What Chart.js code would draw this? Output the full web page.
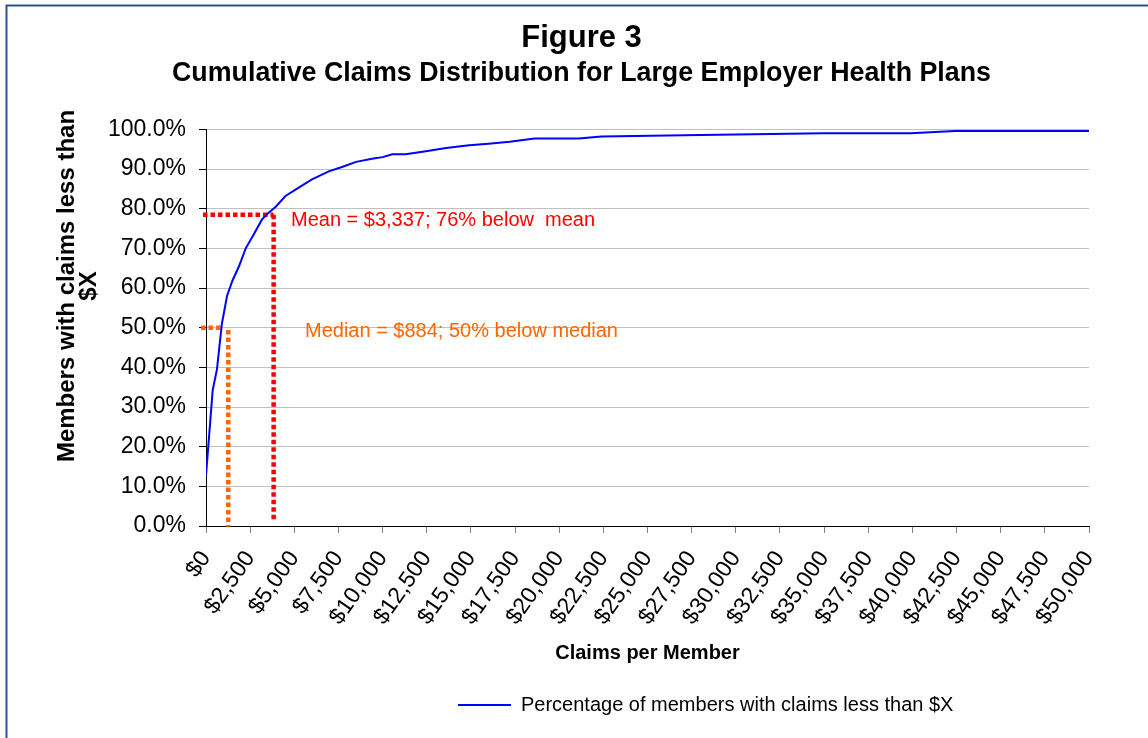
<!DOCTYPE html>
<html>
<head>
<meta charset="utf-8">
<script src="https://cdn.jsdelivr.net/npm/chart.js@4/dist/chart.umd.min.js"></script>
<style>
  html, body { margin: 0; padding: 0; background: #ffffff; }
  canvas { display: block; }
</style>
</head>
<body>
<canvas id="c" width="1148" height="738"></canvas>
<script>
// ---- data ----
const claimsX = [0, 380, 620, 900, 1190, 1500, 1850, 2250, 2700, 3170, 3550, 3950, 4500, 5250, 6000, 6950, 7700, 8500, 9400, 10000, 10550, 11300, 12450, 13600, 14900, 16000, 17200, 18600, 21100, 22400, 28000, 35000, 39900, 42400, 50000];
const pctY    = [12.7, 34.3, 39.5, 51.0, 58.0, 61.9, 65.3, 70.0, 73.5, 77.3, 79.0, 80.5, 83.2, 85.3, 87.4, 89.4, 90.5, 91.8, 92.6, 93.0, 93.7, 93.7, 94.5, 95.3, 96.0, 96.4, 96.9, 97.7, 97.7, 98.2, 98.6, 99.0, 99.0, 99.6, 99.6];

const xTickValues = [0, 2500, 5000, 7500, 10000, 12500, 15000, 17500, 20000, 22500, 25000, 27500, 30000, 32500, 35000, 37500, 40000, 42500, 45000, 47500, 50000];
const xTickLabels = ['$0', '$2,500', '$5,000', '$7,500', '$10,000', '$12,500', '$15,000', '$17,500', '$20,000', '$22,500', '$25,000', '$27,500', '$30,000', '$32,500', '$35,000', '$37,500', '$40,000', '$42,500', '$45,000', '$47,500', '$50,000'];
const yTickValues = [0, 10, 20, 30, 40, 50, 60, 70, 80, 90, 100];
const yTickLabels = ['0.0%', '10.0%', '20.0%', '30.0%', '40.0%', '50.0%', '60.0%', '70.0%', '80.0%', '90.0%', '100.0%'];

// dotted marker lines as drawn in the picture
const meanHX = [-170, 3830], meanHY = [78.5, 78.5];
const meanVX = [3830, 3830], meanVY = [78.5, 1.3];
const medianHX = [-280, 980], medianHY = [50.0, 50.0];
const medianVX = [1263, 1263], medianVY = [49.4, -0.2];

const notes = [
  { text: 'Mean = $3,337; 76% below  mean', x: 4813, y: 77.0, color: '#FF0000' },
  { text: 'Median = $884; 50% below median', x: 5605, y: 49.1, color: '#FF6600' }
];

const seriesLabel = 'Percentage of members with claims less than $X';
const titleText = 'Figure 3';
const subtitleText = 'Cumulative Claims Distribution for Large Employer Health Plans';
const xTitle = 'Claims per Member';
const yTitleLines = ['Members with claims less than', '$X'];

const FONT = "'Liberation Sans', Arial, Helvetica, sans-serif";

function pts(xs, ys) { return xs.map((x, i) => ({ x: x, y: ys[i] })); }

const markerDs = (xs, ys, color) => ({
  label: '_marker',
  data: pts(xs, ys),
  borderColor: color,
  backgroundColor: color,
  borderWidth: 4.5,
  borderDash: [4.5, 3],
  borderCapStyle: 'butt',
  pointRadius: 0,
  clip: false,
  fill: false
});

const decorPlugin = {
  id: 'decor',
  beforeDraw(chart) {
    const ctx = chart.ctx;
    ctx.save();
    ctx.fillStyle = '#ffffff';
    ctx.fillRect(0, 0, chart.width, chart.height);
    ctx.strokeStyle = '#2E5090';
    ctx.lineWidth = 2;
    ctx.beginPath();
    ctx.moveTo(6.5, chart.height);
    ctx.lineTo(6.5, 5.5);
    ctx.lineTo(chart.width, 5.5);
    ctx.stroke();
    ctx.restore();
  },
  afterLayout(chart) {
    if (chart.legend) {
      const w = chart.legend.right - chart.legend.left;
      chart.legend.left = 448;
      chart.legend.right = 448 + w;
    }
    chart.boxes.forEach(b => {
      if (b && b.options && (b.options.text === titleText || b.options.text === subtitleText)) {
        b.left += 37; b.right += 37;
      }
    });
  },
  afterDraw(chart) {
    const ctx = chart.ctx;
    const xs = chart.scales.x, ys = chart.scales.y;
    ctx.save();
    // y axis title
    ctx.fillStyle = '#000000';
    ctx.font = 'bold 24px ' + FONT;
    ctx.textAlign = 'center';
    ctx.textBaseline = 'middle';
    yTitleLines.forEach((line, i) => {
      ctx.save();
      ctx.translate(67 + i * 22, 286);
      ctx.rotate(-Math.PI / 2);
      ctx.fillText(line, 0, 0);
      ctx.restore();
    });
    // annotation notes
    ctx.font = '20px ' + FONT;
    ctx.textAlign = 'left';
    notes.forEach(n => {
      ctx.fillStyle = n.color;
      ctx.fillText(n.text, xs.getPixelForValue(n.x), ys.getPixelForValue(n.y));
    });
    ctx.restore();
  }
};

new Chart(document.getElementById('c'), {
  type: 'line',
  data: {
    datasets: [
      {
        label: seriesLabel,
        data: pts(claimsX, pctY),
        borderColor: '#0000FF',
        backgroundColor: '#0000FF',
        borderWidth: 2,
        pointRadius: 0,
        tension: 0,
        fill: false,
        pointStyle: 'line'
      },
      markerDs(meanHX, meanHY, '#FF0000'),
      markerDs(meanVX, meanVY, '#FF0000'),
      markerDs(medianHX, medianHY, '#FF6600'),
      markerDs(medianVX, medianVY, '#FF6600')
    ]
  },
  options: {
    responsive: false,
    animation: false,
    devicePixelRatio: 1,
    layout: { padding: { left: 0, right: 59, top: 4, bottom: 13 } },
    plugins: {
      title: {
        display: true,
        text: titleText,
        color: '#000000',
        font: { family: FONT, size: 31, weight: 'bold' },
        padding: { top: 16, bottom: 0 }
      },
      subtitle: {
        display: true,
        text: subtitleText,
        color: '#000000',
        font: { family: FONT, size: 26.8, weight: 'bold' },
        padding: { top: 0, bottom: 40 }
      },
      legend: {
        display: true,
        position: 'bottom',
        align: 'start',
        labels: {
          usePointStyle: true,
          pointStyleWidth: 53,
          padding: 10,
          color: '#000000',
          font: { family: FONT, size: 20 },
          filter: item => item.datasetIndex === 0
        }
      },
      tooltip: { enabled: false }
    },
    scales: {
      x: {
        type: 'linear',
        min: 0,
        max: 50000,
        afterBuildTicks: s => { s.ticks = xTickValues.map(v => ({ value: v })); },
        afterFit: s => { s.height = 159; },
        ticks: {
          autoSkip: false,
          maxRotation: 55,
          minRotation: 55,
          padding: 13,
          color: '#000000',
          font: { family: FONT, size: 23 },
          callback: (v, i) => xTickLabels[i]
        },
        grid: {
          display: true,
          drawOnChartArea: false,
          tickLength: 7,
          color: '#808080'
        },
        border: { display: true, color: '#000000', width: 1 },
        title: {
          display: true,
          text: xTitle,
          color: '#000000',
          font: { family: FONT, size: 20, weight: 'bold' },
          padding: { top: 0, bottom: 20 }
        }
      },
      y: {
        type: 'linear',
        min: 0,
        max: 100,
        afterBuildTicks: s => { s.ticks = yTickValues.map(v => ({ value: v })); },
        afterFit: s => { s.width = 206; },
        ticks: {
          padding: 13,
          color: '#000000',
          font: { family: FONT, size: 23 },
          callback: (v, i) => yTickLabels[i]
        },
        grid: {
          color: '#C0C0C0',
          tickColor: '#000000',
          tickLength: 7,
          lineWidth: 1
        },
        border: { display: true, color: '#000000', width: 1 }
      }
    }
  },
  plugins: [decorPlugin]
});
</script>
</body>
</html>
